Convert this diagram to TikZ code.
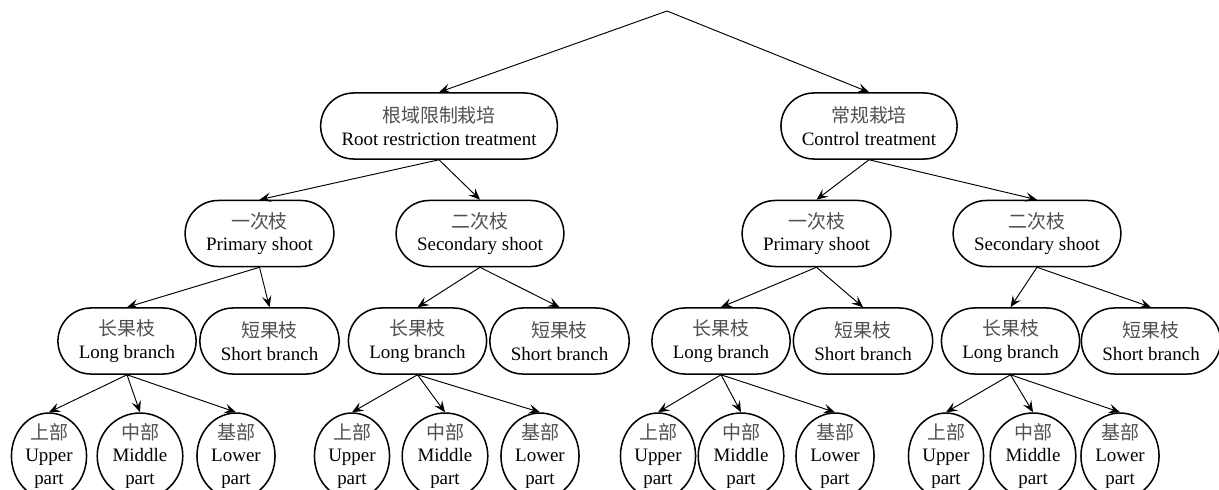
\documentclass[tikz,border=0pt]{standalone}
\usepackage{fontspec}
\setmainfont{Liberation Serif}
\newfontfamily\cjk[Color=505050]{Noto Sans CJK SC}
\usetikzlibrary{arrows.meta,shapes.geometric}

\begin{document}
\begin{tikzpicture}[x=0.527pt,y=-0.527pt,font=\fontsize{10}{12}\selectfont]

          \useasboundingbox (0,0) rectangle (1219,490);
          \clip (0,0) rectangle (1219,490);

          \coordinate (0) at (667,11);

          \begin{scope}[every node/.style={draw,line width=0.8pt,rounded corners=17.4pt,
              minimum height=34.8pt,inner xsep=11pt,align=center}]
            \node (1)  at (439,126)   {{\cjk 根域限制栽培}\\Root restriction treatment};
            \node (2)  at (869,126)   {{\cjk 常规栽培}\\Control treatment};
            \node (3)  at (259.5,233.5) {{\cjk 一次枝}\\Primary shoot};
            \node (4)  at (480,233.5)   {{\cjk 二次枝}\\Secondary shoot};
            \node (5)  at (816.5,233.5) {{\cjk 一次枝}\\Primary shoot};
            \node (6)  at (1037,233.5)  {{\cjk 二次枝}\\Secondary shoot};
            \node (7)  at (127,341)    {{\cjk 长果枝}\\Long branch};
            \node (8)  at (269.5,341)  {{\cjk 短果枝}\\Short branch};
            \node (9)  at (417.5,341)  {{\cjk 长果枝}\\Long branch};
            \node (10) at (559.5,341)  {{\cjk 短果枝}\\Short branch};
            \node (11) at (721,341)    {{\cjk 长果枝}\\Long branch};
            \node (12) at (863,341)    {{\cjk 短果枝}\\Short branch};
            \node (13) at (1010.5,341) {{\cjk 长果枝}\\Long branch};
            \node (14) at (1151,341)   {{\cjk 短果枝}\\Short branch};
          \end{scope}

          \begin{scope}[every node/.style={draw,ellipse,line width=0.8pt,inner xsep=1.5pt,
              inner ysep=-2pt,minimum height=45.3pt,align=center}]
            \node (15) at (49,456)   {{\cjk 上部}\\Upper\\part};
            \node (16) at (140,456)  {{\cjk 中部}\\Middle\\part};
            \node (17) at (236,456)  {{\cjk 基部}\\Lower\\part};
            \node (18) at (352,456)  {{\cjk 上部}\\Upper\\part};
            \node (19) at (445,456)  {{\cjk 中部}\\Middle\\part};
            \node (20) at (540,456)  {{\cjk 基部}\\Lower\\part};
            \node (21) at (658,456)  {{\cjk 上部}\\Upper\\part};
            \node (22) at (741,456)  {{\cjk 中部}\\Middle\\part};
            \node (23) at (835,456)  {{\cjk 基部}\\Lower\\part};
            \node (24) at (946,456)  {{\cjk 上部}\\Upper\\part};
            \node (25) at (1033,456) {{\cjk 中部}\\Middle\\part};
            \node (26) at (1120,456) {{\cjk 基部}\\Lower\\part};
          \end{scope}

          \begin{scope}[every edge/.style={draw,line width=0.5pt,
              -{Stealth[length=6pt,width=5pt,inset=2.4pt]}}]
            \path (0)        edge (1.north);
            \path (0)        edge (2.north);
            \path (1.south)  edge (3.north);
            \path (1.south)  edge (4.north);
            \path (2.south)  edge (5.north);
            \path (2.south)  edge (6.north);
            \path (3.south)  edge (7.north);
            \path (3.south)  edge (8.north);
            \path (4.south)  edge (9.north);
            \path (4.south)  edge (10.north);
            \path (5.south)  edge (11.north);
            \path (5.south)  edge (12.north);
            \path (6.south)  edge (13.north);
            \path (6.south)  edge (14.north);
            \path (7.south)  edge (15.north);
            \path (7.south)  edge (16.north);
            \path (7.south)  edge (17.north);
            \path (9.south)  edge (18.north);
            \path (9.south)  edge (19.north);
            \path (9.south)  edge (20.north);
            \path (11.south) edge (21.north);
            \path (11.south) edge (22.north);
            \path (11.south) edge (23.north);
            \path (13.south) edge (24.north);
            \path (13.south) edge (25.north);
            \path (13.south) edge (26.north);
          \end{scope}

        \end{tikzpicture}
\end{document}
